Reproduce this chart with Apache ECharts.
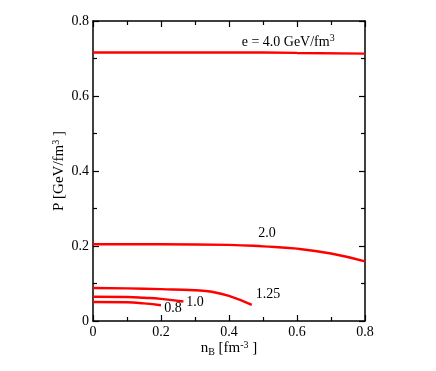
<!DOCTYPE html>
<html><head><meta charset="utf-8">
<script src="https://cdn.jsdelivr.net/npm/echarts@6/dist/echarts.min.js"></script>
<style>html,body{margin:0;padding:0;background:#fff}#c{width:436px;height:371px}</style>
</head><body><div id="c"></div>
<script>
const xTicks = [0, 0.2, 0.4, 0.6, 0.8];
const yTicks = [0, 0.2, 0.4, 0.6, 0.8];
const n40 = [0, 0.2, 0.4, 0.6, 0.8];
const p40 = [0.716, 0.716, 0.716, 0.715, 0.713];
const n20 = [0, 0.2, 0.4, 0.5, 0.6, 0.7, 0.8];
const p20 = [0.205, 0.205, 0.203, 0.199, 0.193, 0.180, 0.159];
const n125 = [0, 0.1, 0.2, 0.3, 0.35, 0.4, 0.467];
const p125 = [0.088, 0.087, 0.085, 0.082, 0.078, 0.067, 0.043];
const n10 = [0, 0.1, 0.15, 0.2, 0.266];
const p10 = [0.065, 0.064, 0.062, 0.059, 0.052];
const n08 = [0, 0.1, 0.15, 0.2];
const p08 = [0.051, 0.050, 0.047, 0.042];
const labelText = ['e = 4.0 GeV/fm{sup|3}', '2.0', '1.25', '1.0', '0.8'];
const labelX = [0.574, 0.512, 0.515, 0.30, 0.235];
const labelY = [0.744, 0.235, 0.072, 0.051, 0.035];

const font = 'Liberation Serif';
const zip = (a, b) => a.map((v, i) => [v, b[i]]);
const line = (n, p) => ({
  type: 'line', data: zip(n, p), smooth: true, symbol: 'none',
  lineStyle: { color: '#ff0000', width: 2.5 }, xAxisIndex: 0, yAxisIndex: 0, z: 3
});
const rich = {
  sup: { fontSize: 10, verticalAlign: 'top', padding: [0, 0, 7, 0], fontFamily: font, color: '#000' },
  sub: { fontSize: 10, verticalAlign: 'bottom', padding: [7, 0, 0, 0], fontFamily: font, color: '#000' }
};
const axisCommon = () => ({
  type: 'value', min: 0, max: 0.8, interval: 0.2,
  axisLine: { show: true, onZero: false, lineStyle: { color: '#000', width: 1.5 } },
  axisTick: { show: true, inside: true, length: 6, lineStyle: { color: '#000', width: 1.2 } },
  minorTick: { show: true, splitNumber: 2, length: 4, lineStyle: { color: '#000', width: 1.2 } },
  splitLine: { show: false }
});
const fmt = v => (v === 0 ? '0' : String(+v.toFixed(1)));
const chart = echarts.init(document.getElementById('c'), null, { renderer: 'canvas' });
chart.setOption({
  animation: false,
  backgroundColor: '#fff',
  grid: { left: 93, right: 71, top: 21, bottom: 50 },
  xAxis: [
    Object.assign(axisCommon(), {
      position: 'bottom',
      axisLabel: { fontFamily: font, fontSize: 14, color: '#000', margin: 4,
        formatter: v => xTicks.includes(+v.toFixed(1)) ? fmt(v) : '' },
      name: 'n{sub|B} [fm{sup|-3} ]', nameLocation: 'middle', nameGap: 19, nameMoveOverlap: false,
      nameTextStyle: { fontFamily: font, fontSize: 15, color: '#000', rich: rich }
    }),
    Object.assign(axisCommon(), { position: 'top', axisLabel: { show: false } })
  ],
  yAxis: [
    Object.assign(axisCommon(), {
      position: 'left',
      axisLabel: { fontFamily: font, fontSize: 14, color: '#000', margin: 4,
        formatter: v => yTicks.includes(+v.toFixed(1)) ? fmt(v) : '' },
      name: 'P [GeV/fm{sup|3} ]', nameLocation: 'middle', nameGap: 25, nameMoveOverlap: false,
      nameTextStyle: { fontFamily: font, fontSize: 15, color: '#000', rich: rich }
    }),
    Object.assign(axisCommon(), { position: 'right', axisLabel: { show: false } })
  ],
  series: [
    line(n40, p40), line(n20, p20), line(n125, p125), line(n10, p10), line(n08, p08),
    {
      type: 'scatter', symbolSize: 0, xAxisIndex: 0, yAxisIndex: 0, z: 5, silent: true,
      itemStyle: { opacity: 0 },
      data: labelText.map((t, i) => ({ value: [labelX[i], labelY[i]], name: t })),
      label: { show: true, position: 'inside', formatter: p => p.name, opacity: 1,
        textBorderWidth: 0, fontFamily: font, fontSize: 14, color: '#000', rich: rich }
    }
  ]
});
</script></body></html>
